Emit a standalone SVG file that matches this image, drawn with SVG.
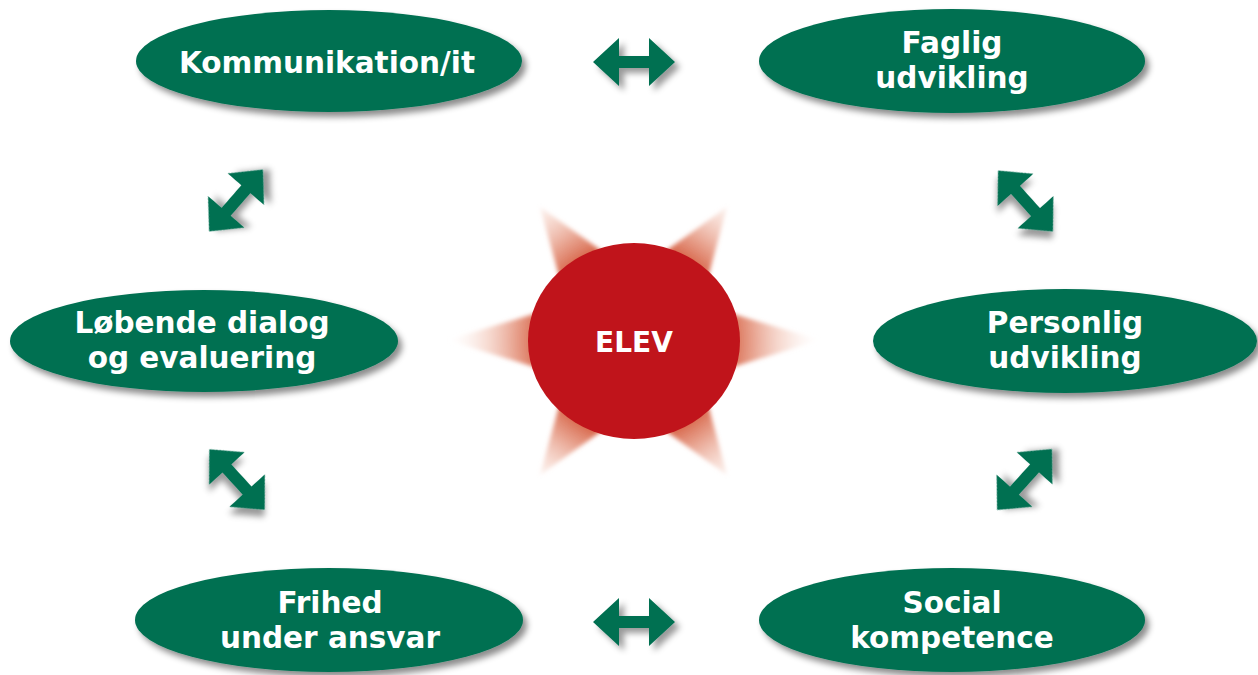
<svg xmlns="http://www.w3.org/2000/svg" width="1258" height="675" viewBox="0 0 1258 675">
  <defs>
    <filter id="shadow" x="-10%" y="-20%" width="125%" height="150%">
      <feDropShadow dx="4" dy="5" stdDeviation="3" flood-color="#000" flood-opacity="0.45"/>
    </filter>
    <filter id="ashadow" x="-30%" y="-30%" width="170%" height="170%">
      <feDropShadow dx="5" dy="5" stdDeviation="3" flood-color="#000" flood-opacity="0.4"/>
    </filter>
    <filter id="soft" x="-20%" y="-20%" width="140%" height="140%">
      <feGaussianBlur stdDeviation="2"/>
    </filter>
    <radialGradient id="rays" gradientUnits="userSpaceOnUse" cx="634" cy="341" r="190">
      <stop offset="0.5" stop-color="#d45a3c" stop-opacity="0.95"/>
      <stop offset="0.62" stop-color="#de7a5e" stop-opacity="0.72"/>
      <stop offset="0.8" stop-color="#efb6a3" stop-opacity="0.38"/>
      <stop offset="1" stop-color="#ffffff" stop-opacity="0"/>
    </radialGradient>
    <path id="arrow" d="M-41,0 L-15,-24 L-15,-6 L15,-6 L15,-24 L41,0 L15,24 L15,6 L-15,6 L-15,24 Z"/>
  </defs>
  <style>
    .node ellipse { fill: #006f51; filter: url(#shadow); }
    .node text { fill: #ffffff; font-family: "DejaVu Sans", Verdana, sans-serif; font-weight: bold; font-size: 29.5px; text-anchor: middle; }
    .conn use { fill: #006f51; filter: url(#ashadow); }
  </style>
  <rect width="1258" height="675" fill="#ffffff"/>

  <g id="connectors" class="conn">
    <use href="#arrow" transform="translate(634,62)"/>
    <use href="#arrow" transform="translate(634,622)"/>
    <use href="#arrow" transform="translate(236,200.5) rotate(-49)"/>
    <use href="#arrow" transform="translate(1025.5,201) rotate(48)"/>
    <use href="#arrow" transform="translate(237,479.5) rotate(47.5)"/>
    <use href="#arrow" transform="translate(1024.5,479.5) rotate(-48)"/>
  </g>

  <g id="elev">
    <g filter="url(#soft)" fill="url(#rays)">
      <polygon points="447,340 634,284 634,398"/>
      <polygon points="820,340 634,284 634,398"/>
      <polygon points="540,207 586,374 682,308"/>
      <polygon points="727,207 586,308 682,374"/>
      <polygon points="540,475 586,308 682,374"/>
      <polygon points="727,475 682,308 586,374"/>
    </g>
    <ellipse cx="634" cy="341" rx="106" ry="98" fill="#c0141b"/>
    <text x="634" y="352" fill="#ffffff" font-family="DejaVu Sans, Verdana, sans-serif" font-weight="bold" font-size="28" text-anchor="middle">ELEV</text>
  </g>

  <g id="kommunikation" class="node">
    <ellipse cx="329" cy="61" rx="193" ry="51"/>
    <text x="327" y="73">Kommunikation/it</text>
  </g>
  <g id="faglig" class="node">
    <ellipse cx="952" cy="61" rx="193" ry="52"/>
    <text x="952" y="53">Faglig</text>
    <text x="952" y="88">udvikling</text>
  </g>
  <g id="lobende" class="node">
    <ellipse cx="204" cy="341" rx="194" ry="51"/>
    <text x="202" y="333">Løbende dialog</text>
    <text x="202" y="368">og evaluering</text>
  </g>
  <g id="personlig" class="node">
    <ellipse cx="1065" cy="341" rx="192" ry="52"/>
    <text x="1065" y="333">Personlig</text>
    <text x="1065" y="368">udvikling</text>
  </g>
  <g id="frihed" class="node">
    <ellipse cx="329" cy="620" rx="194" ry="52"/>
    <text x="330" y="613">Frihed</text>
    <text x="330" y="648">under ansvar</text>
  </g>
  <g id="social" class="node">
    <ellipse cx="952" cy="620" rx="193" ry="52"/>
    <text x="952" y="613">Social</text>
    <text x="952" y="648">kompetence</text>
  </g>
</svg>
